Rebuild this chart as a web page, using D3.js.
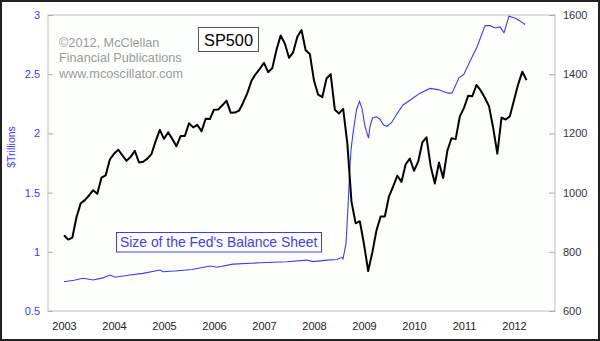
<!DOCTYPE html>
<html>
<head>
<meta charset="utf-8">
<script src="https://cdn.jsdelivr.net/npm/d3@7"></script>
<style>
  html, body { margin: 0; padding: 0; background: #fff; }
  svg { display: block; font-family: Arial, "Liberation Sans", sans-serif; }
</style>
</head>
<body>
<svg id="chart" width="600" height="341"></svg>
<script>
// ---- data ----
const yearTicks = [2003, 2004, 2005, 2006, 2007, 2008, 2009, 2010, 2011, 2012];
const leftTicks = [0.5, 1, 1.5, 2, 2.5, 3];
const rightTicks = [600, 800, 1000, 1200, 1400, 1600];

// S&P 500 monthly values, Jan 2003 .. Apr 2012
const spStart = 2003;
const spValues = [
  855.7, 841.2, 848.2, 916.9, 963.6, 974.5, 990.3, 1008.0, 996.0, 1050.7, 1058.2, 1111.9,
  1131.1, 1144.9, 1126.2, 1107.3, 1120.7, 1140.8, 1101.7, 1104.2, 1114.6, 1130.2, 1173.8, 1211.9,
  1181.3, 1203.6, 1180.6, 1156.9, 1191.5, 1191.3, 1234.2, 1220.3, 1228.8, 1207.0, 1249.5, 1248.3,
  1280.1, 1280.7, 1294.9, 1310.6, 1270.1, 1270.2, 1276.7, 1303.8, 1335.9, 1377.9, 1400.6, 1418.3,
  1438.2, 1406.8, 1420.9, 1482.4, 1530.6, 1503.4, 1455.3, 1474.0, 1526.8, 1549.4, 1481.1, 1468.4,
  1378.6, 1330.6, 1322.7, 1385.6, 1400.4, 1280.0, 1267.4, 1282.8, 1166.4, 968.8, 896.2, 903.3,
  825.9, 735.1, 797.9, 872.8, 919.1, 919.3, 987.5, 1020.6, 1057.1, 1036.2, 1095.6, 1115.1,
  1073.9, 1104.5, 1169.4, 1186.7, 1089.4, 1030.7, 1101.6, 1049.3, 1141.2, 1183.3, 1180.6, 1257.6,
  1286.1, 1327.2, 1325.8, 1363.6, 1345.2, 1320.6, 1292.3, 1218.9, 1131.4, 1253.3, 1247.0, 1257.6,
  1312.4, 1365.7, 1408.5, 1380.0
];

// Fed balance sheet ($ trillions), decimal-year dates
const fedDates = [
  2003.00, 2003.20, 2003.38, 2003.58, 2003.78, 2003.92, 2004.02, 2004.32, 2004.58, 2004.92,
  2004.98, 2005.28, 2005.56, 2005.92, 2006.06, 2006.38, 2006.92, 2007.46, 2007.86, 2007.98,
  2008.26, 2008.46, 2008.56, 2008.58, 2008.64, 2008.68, 2008.71, 2008.74, 2008.78, 2008.85,
  2008.91, 2008.96, 2009.02, 2009.09, 2009.12, 2009.17, 2009.25, 2009.32, 2009.39, 2009.46,
  2009.55, 2009.65, 2009.78, 2009.92, 2010.12, 2010.32, 2010.48, 2010.68, 2010.76, 2010.90,
  2011.00, 2011.12, 2011.26, 2011.42, 2011.52, 2011.62, 2011.72, 2011.80, 2011.90, 2012.04,
  2012.12, 2012.22
];
const fedValues = [
  0.747, 0.760, 0.776, 0.762, 0.780, 0.804, 0.785, 0.804, 0.818, 0.846,
  0.832, 0.840, 0.850, 0.880, 0.870, 0.896, 0.907, 0.916, 0.930, 0.917,
  0.930, 0.935, 0.953, 0.940, 1.070, 1.380, 1.660, 1.860, 2.000, 2.200,
  2.270, 2.210, 2.060, 1.960, 2.060, 2.130, 2.140, 2.120, 2.070, 2.060,
  2.090, 2.160, 2.240, 2.280, 2.340, 2.380, 2.370, 2.340, 2.340, 2.470,
  2.500, 2.610, 2.730, 2.910, 2.910, 2.890, 2.900, 2.850, 2.990, 2.970,
  2.950, 2.920
];

// ---- layout ----
const svg = d3.select("#chart");
const L = 48, R = 555, T = 15, B = 311;

svg.append("rect").attr("x", 0).attr("y", 0).attr("width", 600).attr("height", 341).attr("fill", "#fff");
svg.append("rect").attr("x", 1).attr("y", 1).attr("width", 598).attr("height", 339)
  .attr("fill", "none").attr("stroke", "#222").attr("stroke-width", 2);

const x = d3.scaleLinear().domain([2002.68, 2012.82]).range([L, R]);
const yL = d3.scaleLinear().domain([0.5, 3]).range([B, T]);
const yR = d3.scaleLinear().domain([600, 1600]).range([B, T]);

// plot frame
svg.append("rect").attr("x", L).attr("y", T).attr("width", R - L).attr("height", B - T)
  .attr("fill", "#fdfffd").attr("stroke", "#c8c8c8").attr("stroke-width", 1.2);

// axes
const axL = svg.append("g").attr("transform", `translate(${L},0)`)
  .call(d3.axisLeft(yL).tickValues(leftTicks).tickSize(-5).tickPadding(8).tickFormat(d3.format("")));
const axR = svg.append("g").attr("transform", `translate(${R},0)`)
  .call(d3.axisRight(yR).tickValues(rightTicks).tickSize(-6).tickPadding(8).tickFormat(d3.format("d")));
const axB = svg.append("g").attr("transform", `translate(0,${B})`)
  .call(d3.axisBottom(x).tickValues(yearTicks).tickSize(0).tickPadding(11).tickFormat(d3.format("d")));

[axL, axR, axB].forEach(a => {
  a.select(".domain").remove();
  a.selectAll(".tick line").attr("stroke", "#aaa");
  a.selectAll("text").attr("font-size", 11).attr("font-family", "Arial, 'Liberation Sans', sans-serif");
});
axL.selectAll("text").attr("fill", "#3a3aff");
axR.selectAll("text").attr("fill", "#333344");
axB.selectAll("text").attr("fill", "#222");

// y-axis title
svg.append("text").attr("transform", "translate(15,147) rotate(-90)")
  .attr("text-anchor", "middle").attr("font-size", 10.5).attr("fill", "#3a3aff").text("$Trillions");

// fed line
const fedData = fedDates.map((d, i) => [d, fedValues[i]]);
svg.append("path").datum(fedData)
  .attr("fill", "none").attr("stroke", "#3c3cff").attr("stroke-width", 1.1)
  .attr("d", d3.line().x(d => x(d[0])).y(d => yL(d[1])));

// sp500 line
const spData = spValues.map((v, i) => [spStart + i / 12, v]);
svg.append("path").datum(spData)
  .attr("fill", "none").attr("stroke", "#000").attr("stroke-width", 2).attr("stroke-linejoin", "round")
  .attr("d", d3.line().x(d => x(d[0])).y(d => yR(d[1])));

// copyright text
const copyLines = ["\u00A92012, McClellan", "Financial Publications", "www.mcoscillator.com"];
svg.append("g").selectAll("text").data(copyLines).join("text")
  .attr("x", 59).attr("y", (d, i) => 46.5 + i * 15.7)
  .attr("font-size", 12.7).attr("fill", "#9a9a9a").text(d => d);

// SP500 label
svg.append("rect").attr("x", 198.5).attr("y", 27.5).attr("width", 60).attr("height", 24)
  .attr("fill", "#fff").attr("stroke", "#555").attr("stroke-width", 1);
svg.append("text").attr("x", 228.5).attr("y", 45.5).attr("text-anchor", "middle")
  .attr("font-size", 16.3).attr("fill", "#000").text("SP500");

// Fed label
svg.append("rect").attr("x", 116.5).attr("y", 232.5).attr("width", 205).attr("height", 19.5)
  .attr("fill", "#fff").attr("stroke", "#3c3cff").attr("stroke-width", 1);
svg.append("text").attr("x", 120).attr("y", 247)
  .attr("font-size", 13.9).attr("fill", "#3c3cff").text("Size of the Fed's Balance Sheet");
</script>
</body>
</html>
